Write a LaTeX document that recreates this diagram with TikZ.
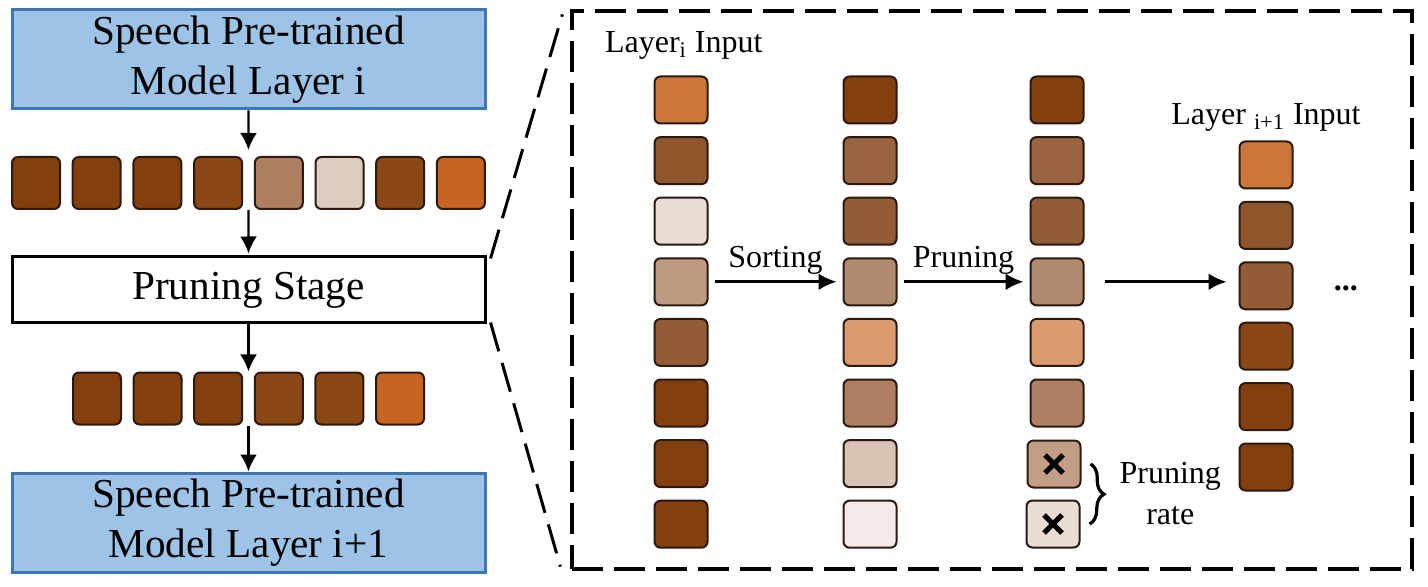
\documentclass[tikz,border=0pt]{standalone}
\usepackage{fontspec}
\setmainfont{Liberation Serif}
\usetikzlibrary{positioning,calc,arrows.meta,decorations.pathreplacing}

\definecolor{boxblue}{HTML}{9DC3E6}
\definecolor{boxline}{HTML}{3C76B4}
\definecolor{tokline}{HTML}{2A1A10}
% left row colours
\definecolor{tA}{HTML}{843F0F}
\definecolor{tB}{HTML}{8B4716}
\definecolor{tC}{HTML}{AD7F60}
\definecolor{tD}{HTML}{DDCCC0}
\definecolor{tE}{HTML}{C76424}
% right column colours
\definecolor{rA}{HTML}{CD763A}
\definecolor{rB}{HTML}{8F552D}
\definecolor{rC}{HTML}{E8DDD5}
\definecolor{rD}{HTML}{BE9A82}
\definecolor{rE}{HTML}{935C34}
\definecolor{sA}{HTML}{9A6440}
\definecolor{sB}{HTML}{B08A6E}
\definecolor{sC}{HTML}{DA9B71}
\definecolor{sD}{HTML}{AE7F62}
\definecolor{sE}{HTML}{D8C4B5}
\definecolor{sF}{HTML}{F3EBE8}
\definecolor{xA}{HTML}{C19E85}

\newcommand\lfont{\fontsize{20.6}{25}\selectfont}
\newcommand\rfont{\fontsize{16}{20.5}\selectfont}

\tikzset{
  tok/.style={draw=tokline,line width=1pt,rounded corners=3pt,inner sep=0pt,
    minimum width=24pt,minimum height=26pt,fill=#1},
  ctok/.style={tok=#1,minimum width=26.5pt,minimum height=23.5pt},
  layerbox/.style={draw=boxline,line width=1.5pt,fill=boxblue,align=center,
    minimum width=236.5pt,minimum height=49.5pt,inner sep=0pt,font=\lfont},
  stagebox/.style={draw,line width=1.5pt,fill=white,minimum width=236.5pt,
    minimum height=33pt,inner sep=0pt,font=\lfont},
  zoombox/.style={draw,line width=1.6pt,dash pattern=on 15.5pt off 5.5pt,
    minimum width=420pt,minimum height=279pt,inner sep=0pt},
  zoomline/.style={line width=1.5pt,dash pattern=on 15pt off 6pt},
  arr/.style={line width=1.2pt,-{Latex[length=8.5pt,width=8.5pt]}},
  rarr/.style={line width=1.5pt,-{Latex[length=9pt,width=8.5pt]}},
  lab/.style={above,inner sep=3pt,font=\rfont},
  xmark/.style={line width=2.5pt},
  brc/.style={decorate,decoration={brace,amplitude=7pt},line width=1.6pt}
}

\begin{document}
\begin{tikzpicture}[x=0.5pt,y=-0.5pt]
\useasboundingbox (0,0) rectangle (1428,587);

% left column
\node[layerbox] (top) at (248.5,59.5) {Speech Pre-trained\\Model Layer i};
\foreach \c [count=\i] in {tA,tA,tA,tB,tC,tD,tB,tE}
  \node[tok=\c] (a\i) at ({36+60.7*(\i-1)},183) {};
\node[stagebox] (stage) at (248.5,290) {Pruning Stage};
\foreach \c [count=\i] in {tA,tA,tA,tB,tB,tE}
  \node[tok=\c] (b\i) at ({97+60.6*(\i-1)},398.5) {};
\node[layerbox] (bot) at (248.5,522.5) {Speech Pre-trained\\Model Layer i+1};

\draw[arr,shorten >=3pt] (top.south) -- ($(a4.north east)!.5!(a5.north west)$);
\draw[arr,shorten >=1pt] ($(a4.south east)!.5!(a5.south west)$) -- (stage.north);
\draw[arr] (stage.south) -- ($(b3.north east)!.5!(b4.north west)$);
\draw[arr] ($(b3.south east)!.5!(b4.south west)$) -- (bot.north);

% zoomed view
\node[zoombox] (zoom) at (992,290) {};
\draw[zoomline] ([shift={(4,3)}]stage.north east) -- ([shift={(-8,5)}]zoom.north west);
\draw[zoomline] ([shift={(4,-2)}]stage.south east) -- ([shift={(-10,-4)}]zoom.south west);

\node[anchor=west,font=\rfont] (inlab) at (598,45) {Layer\textsubscript{i} Input};
\foreach \c [count=\i] in {rA,rB,rC,rD,rE,tA,tA,tA}
  \node[ctok=\c] (in\i) at (681,{100+60.6*(\i-1)}) {};
\foreach \c [count=\i] in {tA,sA,rE,sB,sC,sD,sE,sF}
  \node[ctok=\c] (so\i) at (870,{100+60.6*(\i-1)}) {};
\foreach \c [count=\i] in {tA,sA,rE,sB,sC,sD}
  \node[ctok=\c] (pr\i) at (1057,{100+60.6*(\i-1)}) {};
\node[ctok=xA] (pr7) at (1054,464) {};
\node[ctok=rC] (pr8) at (1053,524) {};
\foreach \c [count=\i] in {rA,rB,rE,tB,tA,tA}
  \node[ctok=\c] (out\i) at (1266,{165+60.4*(\i-1)}) {};
\node[font=\rfont,above=1pt of out1] (outlab) {Layer \textsubscript{i+1} Input};
\node[font=\rfont\bfseries,inner sep=0pt,right=20pt of out3,yshift=-1.5pt] (dots) {...};

\draw[rarr,shorten <=3pt,shorten >=3pt] (in4) -- node[lab] {Sorting} (so4);
\draw[rarr,shorten <=3pt,shorten >=3pt] (so4) -- node[lab] {Pruning} (pr4);
\draw[rarr,shorten <=10pt,shorten >=6pt] (pr4.east) -- (pr4.east -| out3.west);

% pruned tokens
\foreach \t in {pr7,pr8}{
  \draw[xmark] ([shift={(-9,-9)}]\t.center) -- ([shift={(9,9)}]\t.center);
  \draw[xmark] ([shift={(-9,9)}]\t.center) -- ([shift={(9,-9)}]\t.center);
}
\draw[brc] ([xshift=4.5pt]pr7.east) -- node[right=14pt,inner sep=0pt,align=center,font=\rfont] (rate) {Pruning\\rate} ([xshift=4.5pt]pr8.east);
\end{tikzpicture}
\end{document}
